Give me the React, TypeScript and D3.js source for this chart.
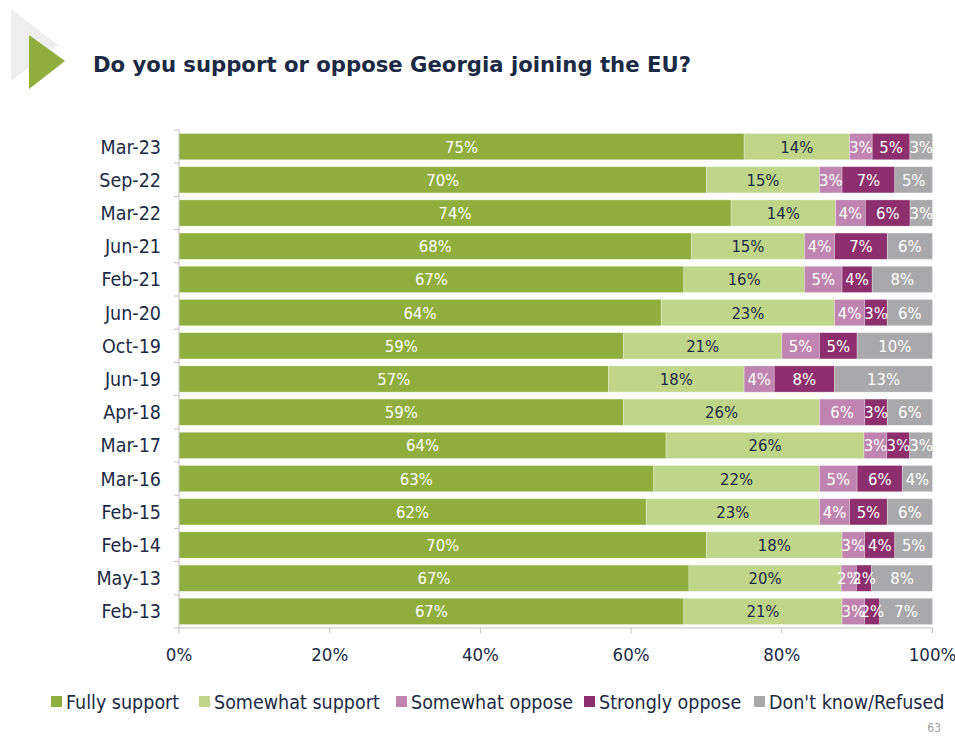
import React from "react";
import * as d3 from "d3";

const categories = ["Mar-23","Sep-22","Mar-22","Jun-21","Feb-21","Jun-20","Oct-19","Jun-19","Apr-18","Mar-17","Mar-16","Feb-15","Feb-14","May-13","Feb-13"];
const seriesNames = ["Fully support","Somewhat support","Somewhat oppose","Strongly oppose","Don't know/Refused"];
const fullySupport = [75,70,74,68,67,64,59,57,59,64,63,62,70,67,67];
const somewhatSupport = [14,15,14,15,16,23,21,18,26,26,22,23,18,20,21];
const somewhatOppose = [3,3,4,4,5,4,5,4,6,3,5,4,3,2,3];
const stronglyOppose = [5,7,6,7,4,3,5,8,3,3,6,5,4,2,2];
const dontKnow = [3,5,3,6,8,6,10,13,6,3,4,6,5,8,7];
const xTicks = [0,20,40,60,80,100];

const colors = ["#8FAE3E","#BFD68A","#BF84B0","#8C2F6C","#A9A9AB"];
const labelColors = ["#ffffff","#1B2A44","#ffffff","#ffffff","#ffffff"];
const navy = "#1B2A44";
const FONT = "'DejaVu Sans Condensed','Liberation Sans Narrow','DejaVu Sans',sans-serif";

export default function App() {
  const W = 955, H = 738;
  const x0 = 179, x1 = 932.5, yTop = 130, yBot = 628;
  const series = [fullySupport, somewhatSupport, somewhatOppose, stronglyOppose, dontKnow];
  const rows = categories.map((c, i) => {
    const o: any = { cat: c };
    seriesNames.forEach((s, j) => (o[s] = series[j][i]));
    return o;
  });
  const stack = d3.stack<any>().keys(seriesNames).offset(d3.stackOffsetExpand);
  const stacked = stack(rows);
  const x = d3.scaleLinear().domain([0, 1]).range([x0, x1]);
  const y = d3.scaleBand().domain(categories).range([yTop, yBot]).paddingInner(0.21).paddingOuter(0.105);
  const yStep = (yBot - yTop) / categories.length;

  const legendX = [51, 199, 396, 584, 754];

  return (
    <svg width={W} height={H} style={{ position: "absolute", left: 0, top: 0, background: "#fff" }}>
      <polygon points="11,9 58,45 11,81" fill="#EEEEEE" />
      <polygon points="29,35 65,61 29,89" fill="#8FAE3E" />
      <text x={93} y={72} fontFamily="'DejaVu Sans',sans-serif" fontWeight="bold" fontSize={21.2} fill={navy}>
        Do you support or oppose Georgia joining the EU?
      </text>

      {stacked.map((s, j) => (
        <g key={s.key}>
          {s.map((d, i) => {
            const xa = x(d[0]), xb = x(d[1]);
            const yy = y(categories[i])!;
            return (
              <rect key={i} x={xa} y={yy} width={Math.max(0, xb - xa)} height={y.bandwidth()} fill={colors[j]} stroke="#ffffff" strokeOpacity={0.35} strokeWidth={0.8} />
            );
          })}
        </g>
      ))}
      {stacked.map((s, j) => (
        <g key={"l" + s.key}>
          {s.map((d, i) => {
            const xa = x(d[0]), xb = x(d[1]);
            const yy = y(categories[i])!;
            return (
              <text key={i} x={(xa + xb) / 2} y={yy + y.bandwidth() / 2} dy="0.36em" textAnchor="middle" fontFamily={FONT} fontSize={16.5} fill={labelColors[j]}>
                {series[j][i]}%
              </text>
            );
          })}
        </g>
      ))}

      {/* y axis */}
      <line x1={x0} x2={x0} y1={yTop} y2={yBot} stroke="#BFBFBF" strokeWidth={1} />
      {d3.range(categories.length + 1).map((k) => (
        <line key={k} x1={x0 - 5} x2={x0} y1={yTop + k * yStep} y2={yTop + k * yStep} stroke="#BFBFBF" />
      ))}
      {categories.map((c) => (
        <text key={c} x={161} y={y(c)! + y.bandwidth() / 2} dy="0.36em" textAnchor="end" fontFamily={FONT} fontSize={19.5} fill={navy}>
          {c}
        </text>
      ))}

      {/* x axis */}
      <line x1={x0} x2={x1} y1={yBot} y2={yBot} stroke="#BFBFBF" />
      {xTicks.map((t) => (
        <g key={t}>
          <line x1={x(t / 100)} x2={x(t / 100)} y1={yBot} y2={yBot + 5} stroke="#BFBFBF" />
          <text x={x(t / 100)} y={654} dy="0.36em" textAnchor="middle" fontFamily={FONT} fontSize={18.5} fill={navy}>
            {t}%
          </text>
        </g>
      ))}

      {/* legend */}
      {seriesNames.map((s, j) => (
        <g key={s}>
          <rect x={legendX[j]} y={696} width={11} height={11} fill={colors[j]} />
          <text x={legendX[j] + 15} y={701.5} dy="0.36em" fontFamily={FONT} fontSize={19.5} fill={navy}>
            {s}
          </text>
        </g>
      ))}

      <text x={941} y={732} textAnchor="end" fontFamily={FONT} fontSize={12} fill="#A0A0A0">63</text>
    </svg>
  );
}
